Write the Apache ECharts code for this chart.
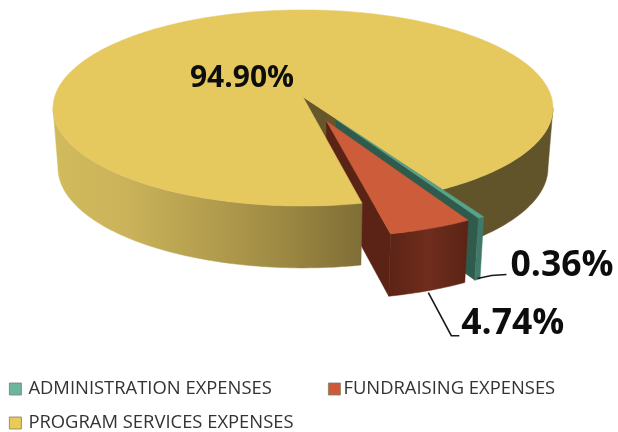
<!DOCTYPE html>
<html>
<head>
    <meta charset="utf-8">
    <title>Expenses</title>
    <style>html,body{margin:0;padding:0;background:#fff;}</style>
    <script src="https://cdn.jsdelivr.net/npm/echarts@6/dist/echarts.min.js"></script>
</head>
<body>
    <div id="main" style="width:618px;height:432px;"></div>
    <script type="text/javascript">
        var categories = ["ADMINISTRATION EXPENSES", "FUNDRAISING EXPENSES", "PROGRAM SERVICES EXPENSES"];
        var shares = [0.36, 4.74, 94.90];

        var myChart = echarts.init(document.getElementById("main"));

        // echarts has no 3d pie, so the disc is projected by hand
        var cx = 303, cy = 97, rx = 248.4, ry = 96.8, persp = 0.112, depth = 59.5;
        var startAngle = 59.4, explode = 0.26, bottomShrink = 0.98;

        // slice angles, clockwise on screen
        var angles = [];
        var a = startAngle;
        shares.forEach(function (s) {
            angles.push([a, a + s * 3.6]);
            a += s * 3.6;
        });

        // where the disc edge turns away from the viewer
        var silhouette = Math.asin(persp) * 180 / Math.PI;

        function rad(d) { return d * Math.PI / 180; }

        // a point of the disc plane (unit radius) to the screen, drop = down the wall
        function project(u, v, drop) {
            var w = 1 - persp * v;
            var x = rx * u / w;
            var y = ry * v / w;
            if (drop) {
                x = x * bottomShrink;
                y = y + drop * (1 + 0.04 * v);
            }
            return [cx + x, cy + y];
        }

        function offsetOf(i, amount) {
            var mid = rad((angles[i][0] + angles[i][1]) / 2);
            return [amount * Math.cos(mid), amount * Math.sin(mid)];
        }

        function rimPoint(deg, off, drop) {
            return project(Math.cos(rad(deg)) + off[0], Math.sin(rad(deg)) + off[1], drop);
        }

        function rimArc(from, to, off, drop) {
            var pts = [];
            var n = Math.max(2, Math.ceil(Math.abs(to - from)));
            for (var i = 0; i <= n; i++) {
                pts.push(rimPoint(from + (to - from) * i / n, off, drop));
            }
            return pts;
        }

        function poly(points, fill) {
            return { type: "polygon", shape: { points: points }, style: { fill: fill, stroke: fill, lineWidth: 0.5 } };
        }

        function topFace(from, to, off, fill) {
            return poly([project(off[0], off[1])].concat(rimArc(from, to, off)), fill);
        }

        function wall(from, to, off, fill) {
            return poly(rimArc(from, to, off).concat(rimArc(to, from, off, depth)), fill);
        }

        function radial(deg, off, fill) {
            return poly([
                project(off[0], off[1]),
                rimPoint(deg, off),
                rimPoint(deg, off, depth),
                project(off[0], off[1], depth)
            ], fill);
        }

        function hGrad(stops) {
            var list = stops.map(function (c, i) {
                return { offset: i / (stops.length - 1), color: c };
            });
            return new echarts.graphic.LinearGradient(0, 0, 1, 0, list);
        }

        function leader(anchor, steps) {
            var pts = [anchor];
            steps.forEach(function (s) {
                var last = pts[pts.length - 1];
                pts.push([last[0] + s[0], last[1] + s[1]]);
            });
            return {
                type: "polyline",
                shape: { points: pts },
                style: { fill: null, stroke: "#1a1a1a", lineWidth: 1.6 }
            };
        }

        function label(value, x, y, align, size) {
            return {
                type: "text",
                style: {
                    text: value.toFixed(2) + "%",
                    x: x, y: y,
                    font: "bold " + size + "px 'Open Sans'",
                    fill: "#0d0d0d",
                    align: align,
                    verticalAlign: "middle"
                }
            };
        }

        // back part of program slice: right wall and the inner face in the gap
        function renderProgramBack() {
            var none = [0, 0];
            return {
                type: "group",
                children: [
                    wall(silhouette, angles[2][1] - 360, none, "#62542a"),
                    radial(startAngle, none, "#66572a")
                ]
            };
        }

        function renderAdmin(params, api) {
            var off = offsetOf(0, explode);
            var an = angles[0];
            var p = rimPoint((an[0] + an[1]) / 2, off, depth);
            return {
                type: "group",
                children: [
                    radial(an[1], off, "#2f5a4c"),
                    wall(an[0], an[1], off, "#3f7a68"),
                    topFace(an[0], an[1], off, "#55a48b"),
                    leader([p[0], p[1] - 1], [[14, -3], [15, -1]]),
                    label(api.value(0), p[0] + 33, p[1] - 14, "left", 35.5)
                ]
            };
        }

        function renderFund(params, api) {
            var off = offsetOf(1, explode);
            var an = angles[1];
            var p = rimPoint((an[0] + an[1]) / 2, off, depth);
            return {
                type: "group",
                children: [
                    radial(an[1], off, "#5a2315"),
                    wall(an[0], an[1], off, hGrad(["#5c2416", "#6f2d1d", "#5a2315"])),
                    topFace(an[0], an[1], off, "#cd5c3a"),
                    leader([p[0], p[1] + 2], [[23, 43], [8, 0]]),
                    label(api.value(0), p[0] + 33, p[1] + 33, "left", 35.5)
                ]
            };
        }

        // front part of program slice goes over the exploded slices
        function renderProgramFront(params, api) {
            var none = [0, 0];
            var an = angles[2];
            return {
                type: "group",
                children: [
                    wall(an[0], 180 - silhouette, none, hGrad(["#d2bb5d", "#c9b259", "#b49e4e", "#9c8842", "#7f6e36"])),
                    topFace(an[0], an[1], none, "#e5c95f"),
                    label(api.value(0), cx - 61, cy - 19, "center", 30)
                ]
            };
        }

        function sliceSeries(name, color, value, render, z) {
            return {
                type: "custom",
                name: name,
                coordinateSystem: "none",
                silent: true,
                z: z,
                itemStyle: { color: color },
                data: [[value]],
                renderItem: render
            };
        }

        function legendFor(name, left, top, textPad) {
            return {
                data: [name],
                left: left,
                top: top,
                padding: 0,
                itemWidth: 12,
                itemHeight: 12,
                itemGap: 0,
                icon: "rect",
                selectedMode: false,
                itemStyle: { borderColor: "#7d7d5f", borderWidth: 0.8 },
                textStyle: {
                    fontFamily: "Open Sans",
                    fontSize: 18.4,
                    color: "#333333",
                    padding: textPad
                }
            };
        }

        var option = {
            animation: false,
            backgroundColor: "#ffffff",
            legend: [
                legendFor(categories[0], 9, 380, [0, 0, 0, 2]),
                legendFor(categories[1], 328, 380, [0, 0, 0, -2]),
                legendFor(categories[2], 9, 414, [0, 0, 0, 2])
            ],
            series: [
                sliceSeries(categories[2], "#ebcb55", shares[2], renderProgramBack, 1),
                sliceSeries(categories[0], "#6db59c", shares[0], renderAdmin, 2),
                sliceSeries(categories[1], "#d0583a", shares[1], renderFund, 3),
                sliceSeries(categories[2], "#ebcb55", shares[2], renderProgramFront, 4)
            ]
        };
        myChart.setOption(option);
    </script>
</body>
</html>
